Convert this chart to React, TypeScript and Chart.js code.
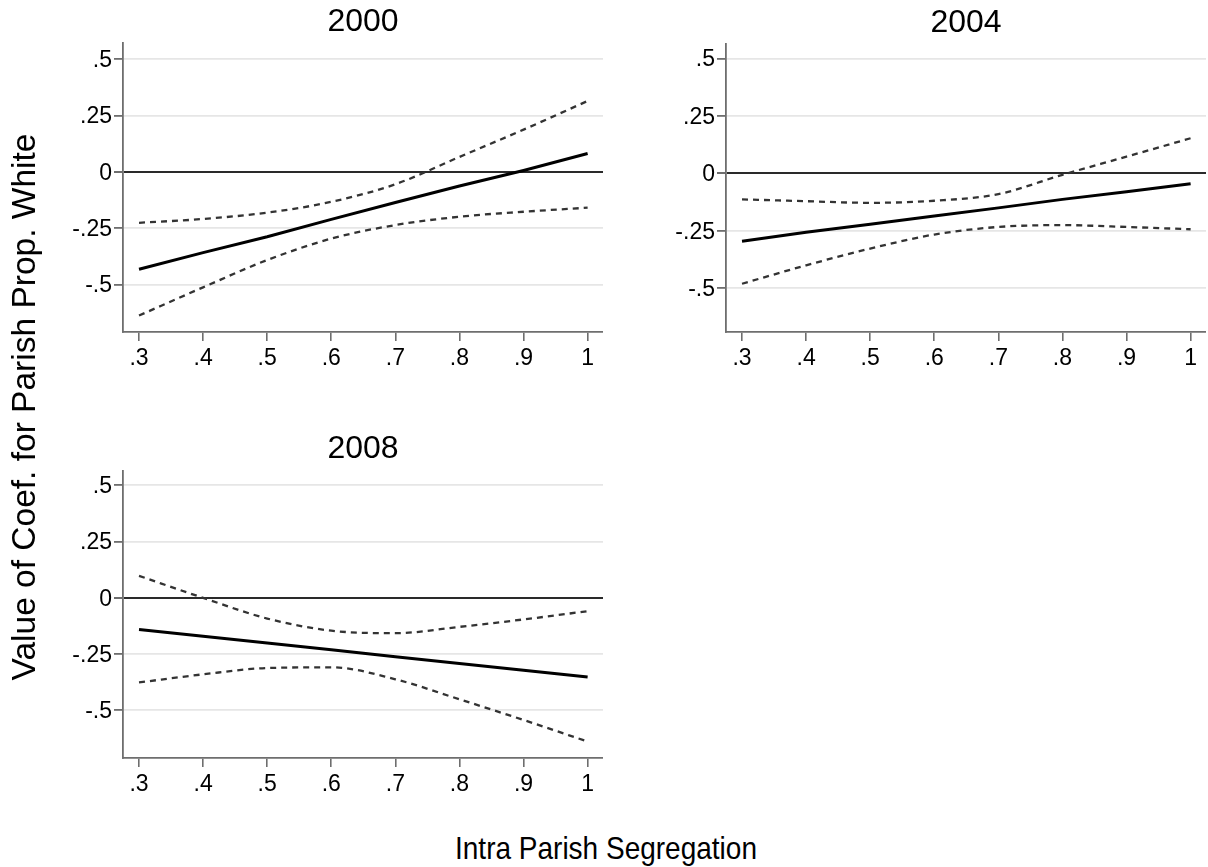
import React, { useEffect, useRef } from "react";
import { Chart, registerables } from "chart.js";

Chart.register(...registerables);

// ---------- data ----------
const X_VALUES = [0.3, 0.4, 0.5, 0.6, 0.7, 0.8, 0.9, 1.0];

const X_TICKS = [0.3, 0.4, 0.5, 0.6, 0.7, 0.8, 0.9, 1.0];
const X_TICK_LABELS = [".3", ".4", ".5", ".6", ".7", ".8", ".9", "1"];
const Y_TICKS = [-0.5, -0.25, 0, 0.25, 0.5];
const Y_TICK_LABELS = ["-.5", "-.25", "0", ".25", ".5"];

const COEF_2000 = [-0.432, -0.358, -0.288, -0.211, -0.136, -0.063, 0.006, 0.081];
const UPPER_2000 = [-0.226, -0.209, -0.181, -0.133, -0.055, 0.066, 0.187, 0.314];
const LOWER_2000 = [-0.637, -0.512, -0.391, -0.296, -0.236, -0.199, -0.177, -0.159];

const COEF_2004 = [-0.295, -0.256, -0.221, -0.185, -0.15, -0.113, -0.08, -0.045];
const UPPER_2004 = [-0.113, -0.121, -0.128, -0.119, -0.09, -0.006, 0.073, 0.153];
const LOWER_2004 = [-0.48, -0.4, -0.327, -0.266, -0.233, -0.225, -0.233, -0.243];

const COEF_2008 = [-0.141, -0.171, -0.201, -0.231, -0.262, -0.292, -0.322, -0.352];
const UPPER_2008 = [0.098, 0.0, -0.092, -0.146, -0.157, -0.129, -0.096, -0.059];
const LOWER_2008 = [-0.376, -0.34, -0.312, -0.309, -0.362, -0.451, -0.543, -0.639];

const Y_TITLE = "Value of Coef. for Parish Prop. White";
const X_TITLE = "Intra Parish Segregation";

const FONT = '"Liberation Sans", Arial, Helvetica, sans-serif';

const panelTitle = {
  id: "panelTitle",
  afterDraw(chart: any, _args: any, opts: any) {
    const { ctx, chartArea } = chart;
    ctx.save();
    ctx.font = `32px ${FONT}`;
    ctx.fillStyle = "#000";
    ctx.textAlign = "center";
    ctx.textBaseline = "alphabetic";
    ctx.fillText(opts.text, (chartArea.left + chartArea.right) / 2, opts.y);
    ctx.restore();
  },
};

function labelFor(values: number[], labels: string[], v: number) {
  const i = values.findIndex((t) => Math.abs(t - v) < 1e-6);
  return i >= 0 ? labels[i] : "";
}

type PanelProps = {
  title: string;
  coef: number[];
  upper: number[];
  lower: number[];
  left: number;
  top: number;
  width: number;
  height: number;
  padTop: number;
  yMin: number;
  yMax: number;
  titleY: number;
};

function Panel(p: PanelProps) {
  const ref = useRef<HTMLCanvasElement | null>(null);
  useEffect(() => {
    if (!ref.current) return;
    const toPts = (arr: number[]) => X_VALUES.map((x, i) => ({ x, y: arr[i] }));
    const dashed = {
      borderColor: "#333",
      borderWidth: 2.3,
      borderDash: [6, 5],
      pointRadius: 0,
      cubicInterpolationMode: "monotone" as const,
      fill: false,
    };
    const chart = new Chart(ref.current, {
      type: "line",
      data: {
        datasets: [
          { ...dashed, label: "upper", data: toPts(p.upper) },
          { ...dashed, label: "lower", data: toPts(p.lower) },
          {
            label: "coef",
            data: toPts(p.coef),
            borderColor: "#000",
            borderWidth: 3,
            pointRadius: 0,
            fill: false,
          },
        ],
      },
      options: {
        responsive: false,
        animation: false,
        devicePixelRatio: 1,
        layout: { padding: { top: p.padTop, left: 0, right: 0, bottom: 0 } },
        plugins: {
          legend: { display: false },
          tooltip: { enabled: false },
          title: { display: false },
          panelTitle: { text: p.title, y: p.titleY },
        } as any,
        scales: {
          x: {
            type: "linear",
            min: 0.275,
            max: 1.024,
            afterBuildTicks: (scale: any) => {
              scale.ticks = X_TICKS.map((v) => ({ value: v }));
            },
            afterFit: (scale: any) => {
              scale.height = 40;
            },
            ticks: {
              autoSkip: false,
              maxRotation: 0,
              padding: 4,
              color: "#000",
              font: { family: FONT, size: 23 },
              callback: (v: any) => labelFor(X_TICKS, X_TICK_LABELS, Number(v)),
            },
            grid: {
              drawOnChartArea: false,
              drawTicks: true,
              tickLength: 9,
              tickColor: "#6e6e6e",
              lineWidth: 1.6,
            },
            border: { display: true, color: "#6e6e6e", width: 1.8 },
          },
          y: {
            type: "linear",
            min: p.yMin,
            max: p.yMax,
            afterBuildTicks: (scale: any) => {
              scale.ticks = Y_TICKS.map((v) => ({ value: v }));
            },
            afterFit: (scale: any) => {
              scale.width = 123;
            },
            ticks: {
              autoSkip: false,
              padding: 2,
              labelOffset: 1.5,
              color: "#000",
              font: { family: FONT, size: 23 },
              callback: (v: any) => labelFor(Y_TICKS, Y_TICK_LABELS, Number(v)),
            },
            grid: {
              drawOnChartArea: true,
              drawTicks: true,
              tickLength: 9,
              tickColor: "#6e6e6e",
              color: (ctx: any) =>
                ctx.tick && Math.abs(ctx.tick.value) < 1e-9 ? "#2a2a2a" : "#e6e6e6",
              lineWidth: (ctx: any) =>
                ctx.tick && Math.abs(ctx.tick.value) < 1e-9 ? 2 : 1.8,
            },
            border: { display: true, color: "#6e6e6e", width: 1.8 },
          },
        },
      },
      plugins: [panelTitle as any],
    });
    return () => chart.destroy();
  }, []);
  return (
    <canvas
      ref={ref}
      width={p.width}
      height={p.height}
      style={{
        position: "absolute",
        left: p.left,
        top: p.top,
        width: p.width,
        height: p.height,
      }}
    />
  );
}

export default function App() {
  return (
    <div
      style={{
        position: "absolute",
        left: 0,
        top: 0,
        width: 1208,
        height: 867,
        background: "#fff",
        overflow: "hidden",
        fontFamily: FONT,
      }}
    >
      <Panel
        title="2000"
        coef={COEF_2000}
        upper={UPPER_2000}
        lower={LOWER_2000}
        left={0}
        top={0}
        width={603}
        height={372}
        padTop={43}
        yMin={-0.71}
        yMax={0.571}
        titleY={30.6}
      />
      <Panel
        title="2004"
        coef={COEF_2004}
        upper={UPPER_2004}
        lower={LOWER_2004}
        left={603}
        top={0}
        width={603}
        height={372}
        padTop={44}
        yMin={-0.69}
        yMax={0.563}
        titleY={31.5}
      />
      <Panel
        title="2008"
        coef={COEF_2008}
        upper={UPPER_2008}
        lower={LOWER_2008}
        left={0}
        top={428}
        width={603}
        height={370}
        padTop={43}
        yMin={-0.712}
        yMax={0.564}
        titleY={30.3}
      />
      <div
        style={{
          position: "absolute",
          left: 24 - 350,
          top: 406.5 - 17,
          width: 700,
          height: 34,
          lineHeight: "34px",
          fontSize: 33.5,
          textAlign: "center",
          color: "#000",
          transform: "rotate(-90deg)",
          transformOrigin: "50% 50%",
          whiteSpace: "nowrap",
        }}
      >
        {Y_TITLE}
      </div>
      <div
        style={{
          position: "absolute",
          left: 606 - 400,
          top: 832,
          width: 800,
          height: 32,
          lineHeight: "32px",
          fontSize: 32,
          textAlign: "center",
          color: "#000",
          whiteSpace: "nowrap",
          transform: "scaleX(0.875)",
          transformOrigin: "50% 50%",
        }}
      >
        {X_TITLE}
      </div>
    </div>
  );
}
